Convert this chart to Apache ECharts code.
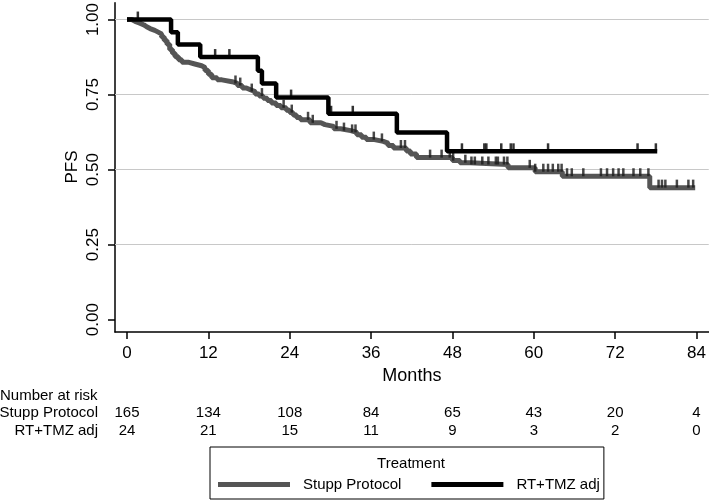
<!DOCTYPE html>
<html>
<head>
<meta charset="utf-8">
<script src="https://cdn.jsdelivr.net/npm/echarts@6/dist/echarts.min.js"></script>
<style>
html, body { margin: 0; padding: 0; background: #fff; }
#echarts_id { width: 709px; height: 504px; }
</style>
</head>
<body>
<div id="echarts_id"></div>
<script>
// Kaplan-Meier data (months / PFS)
var stuppTime = [0, 0.7, 1.2, 1.9, 2.5, 2.9, 3.4, 4.1, 4.6, 5.1, 5.5, 5.9, 6.3, 6.7, 7.1, 7.6, 8.1, 9.0, 10.0, 11.0,
    11.5, 12.0, 12.5, 13.3, 14.0, 15.5, 16.3, 17.0, 17.6, 18.2, 18.9, 19.5, 20.1, 20.7, 21.3, 22.0, 22.7, 23.5, 24.0,
    24.5, 25.0, 25.6, 27.0, 28.6, 29.2, 30.5, 31.5, 33.0, 33.9, 34.6, 35.3, 36.5, 37.8, 38.5, 39.3, 41.2, 41.8, 42.7,
    48.0, 49.1, 50.6, 56.2, 60.2, 64.2, 77.1, 83.8];
var stuppSurv = [1.0, 0.994, 0.988, 0.982, 0.976, 0.970, 0.964, 0.958, 0.952, 0.942, 0.930, 0.918, 0.900, 0.888, 0.876,
    0.866, 0.858, 0.852, 0.846, 0.840, 0.830, 0.818, 0.806, 0.799, 0.793, 0.787, 0.780, 0.772, 0.766, 0.760, 0.752,
    0.745, 0.738, 0.730, 0.722, 0.714, 0.706, 0.698, 0.690, 0.682, 0.674, 0.666, 0.656, 0.650, 0.644, 0.636, 0.630,
    0.624, 0.616, 0.608, 0.600, 0.594, 0.588, 0.580, 0.572, 0.562, 0.552, 0.540, 0.530, 0.523, 0.517, 0.506, 0.493,
    0.478, 0.440, 0.440];
var stuppCensor = [16.0, 16.7, 18.4, 19.9, 23.1, 24.3, 26.7, 27.4, 30.9, 32.0, 33.2, 33.7, 36.4, 37.6, 40.4, 41.0,
    44.7, 46.4, 47.6, 48.1, 49.9, 50.8, 51.3, 52.4, 53.3, 54.4, 54.7, 55.6, 56.1, 59.4, 60.2, 61.4, 62.1, 62.8, 63.6,
    64.1, 64.9, 65.6, 67.3, 69.9, 70.8, 71.7, 72.5, 73.2, 74.7, 75.7, 76.9, 78.4, 78.9, 79.4, 81.1, 82.8, 83.5];

var rtTime = [0, 6.5, 7.5, 10.8, 19.3, 19.9, 22.0, 29.7, 39.8, 47.2, 78.2];
var rtSurv = [1.0, 0.958, 0.917, 0.875, 0.829, 0.787, 0.740, 0.686, 0.624, 0.561, 0.561];
var rtCensor = [1.6, 13.0, 15.1, 24.2, 30.1, 33.3, 49.4, 52.7, 53.0, 55.2, 56.6, 57.0, 62.1, 75.3, 78.0];

// axis ticks and number at risk
var monthTicks = [0, 12, 24, 36, 48, 60, 72, 84];
var pfsTicks = [0, 0.25, 0.5, 0.75, 1];
var gridValues = [0.25, 0.5, 0.75, 1];
var stuppRisk = [165, 134, 108, 84, 65, 43, 20, 4];
var rtRisk = [24, 21, 15, 11, 9, 3, 2, 0];

var FONT = "'Liberation Sans', Arial, sans-serif";
var GREY = '#555555';

function pairs(t, s) {
    return t.map(function (v, i) { return [v, s[i]]; });
}
// survival value at time t (step function)
function survAt(t, times, surv) {
    var v = surv[0];
    for (var i = 0; i < times.length; i++) {
        if (times[i] <= t) v = surv[i];
    }
    return [t, v];
}

var myChart = echarts.init(document.getElementById('echarts_id'));

option = {
    animation: false,
    textStyle: { fontFamily: FONT, color: '#000' },
    grid: { left: 115, right: 0, top: 0, bottom: 172 },
    xAxis: {
        type: 'value',
        min: -1.77,
        max: 85.8,
        name: 'Months',
        nameLocation: 'middle',
        nameGap: 34,
        nameTextStyle: { fontSize: 18, color: '#000', fontFamily: FONT },
        axisLine: { show: true, onZero: false, lineStyle: { color: '#000', width: 1.5 } },
        axisTick: { show: true, length: 7, customValues: monthTicks, lineStyle: { color: '#000', width: 1.5 } },
        axisLabel: { customValues: monthTicks, fontSize: 17, margin: 13, color: '#000', fontFamily: FONT },
        splitLine: { show: false }
    },
    yAxis: {
        type: 'value',
        min: -0.041,
        max: 1.056,
        axisLine: { show: true, onZero: false, lineStyle: { color: '#000', width: 1.5 } },
        axisTick: { show: true, length: 7, customValues: pfsTicks, lineStyle: { color: '#000', width: 1.5 } },
        axisLabel: {
            customValues: pfsTicks, rotate: 90, fontSize: 17, margin: 13, color: '#000', fontFamily: FONT,
            formatter: function (v) { return v.toFixed(2); }
        },
        splitLine: { show: false }
    },
    legend: {
        left: 210,
        top: 447,
        orient: 'horizontal',
        data: ['Stupp Protocol', 'RT+TMZ adj'],
        icon: 'rect',
        itemWidth: 72,
        itemHeight: 5,
        itemGap: 30,
        padding: [30, 4, 7, 8],
        borderColor: '#000',
        borderWidth: 1,
        textStyle: { fontSize: 15, color: '#000', fontFamily: FONT, padding: [0, 0, 0, 8] }
    },
    series: [{
        name: 'Stupp Protocol',
        type: 'line',
        step: 'end',
        symbol: 'none',
        color: GREY,
        lineStyle: { color: GREY, width: 5 },
        data: pairs(stuppTime, stuppSurv),
        z: 2,
        markLine: {
            silent: true,
            symbol: 'none',
            label: { show: false },
            lineStyle: { color: '#c8c8c8', width: 1, type: 'solid' },
            data: gridValues.map(function (v) { return { yAxis: v }; }),
            z: 1
        }
    }, {
        name: 'RT+TMZ adj',
        type: 'line',
        step: 'end',
        symbol: 'none',
        color: '#000',
        lineStyle: { color: '#000', width: 4.5 },
        data: pairs(rtTime, rtSurv),
        z: 4
    }, {
        name: 'Stupp censored',
        type: 'scatter',
        symbol: 'rect',
        symbolSize: [2.5, 8],
        symbolOffset: [0, -4],
        itemStyle: { color: '#1a1a1a' },
        data: stuppCensor.map(function (t) { return survAt(t, stuppTime, stuppSurv); }),
        z: 3
    }, {
        name: 'RT censored',
        type: 'scatter',
        symbol: 'rect',
        symbolSize: [2.5, 8],
        symbolOffset: [0, -4],
        itemStyle: { color: '#000' },
        data: rtCensor.map(function (t) { return survAt(t, rtTime, rtSurv); }),
        z: 5
    }]
};

myChart.setOption(option);

// y axis title, number at risk table, legend title
var graphics = [{
    type: 'text', x: 72, y: 167, rotation: Math.PI / 2,
    style: { text: 'PFS', fontSize: 17, fontFamily: FONT, fill: '#000', align: 'center', verticalAlign: 'middle' }
}];
function txt(x, y, s, align) {
    graphics.push({
        type: 'text', x: x, y: y,
        style: { text: s, fontSize: 15, fontFamily: FONT, fill: '#000', align: align, verticalAlign: 'middle' }
    });
}
txt(0, 396, 'Number at risk', 'left');
txt(98, 413, 'Stupp Protocol', 'right');
txt(98, 431, 'RT+TMZ adj', 'right');
monthTicks.forEach(function (m, i) {
    var px = myChart.convertToPixel({ xAxisIndex: 0 }, m);
    txt(px, 413, String(stuppRisk[i]), 'center');
    txt(px, 431, String(rtRisk[i]), 'center');
});
txt(411, 464, 'Treatment', 'center');

myChart.setOption({ graphic: graphics });
</script>
</body>
</html>
